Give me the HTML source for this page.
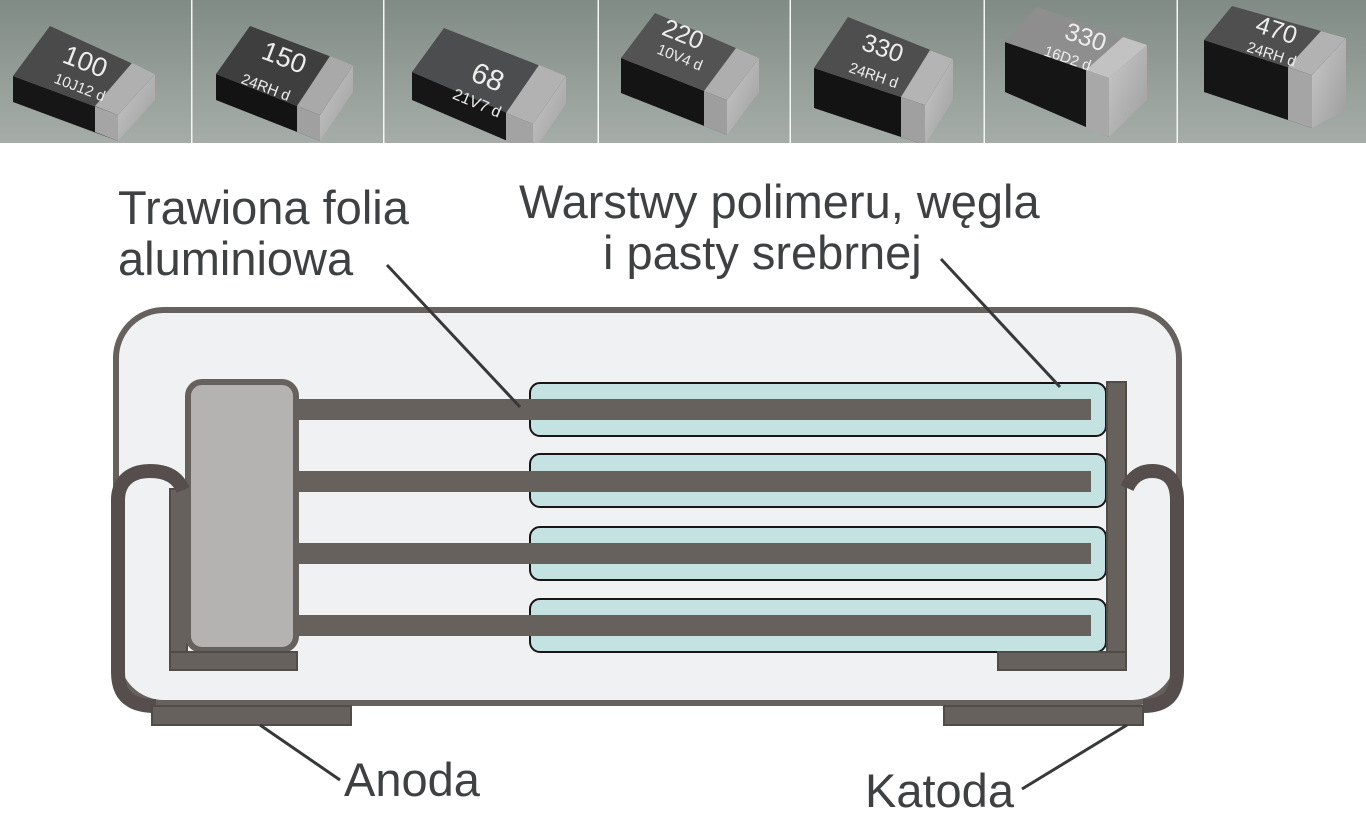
<!DOCTYPE html>
<html><head><meta charset="utf-8">
<style>
html,body{margin:0;padding:0;background:#fff;}
svg{display:block}
.lbl{font-family:"Liberation Sans",Arial,sans-serif;font-size:47px;fill:#3e4042;}
.ct{font-family:"Liberation Sans",Arial,sans-serif;fill:#eceeec;text-anchor:middle;}
</style></head><body>
<svg width="1366" height="826" viewBox="0 0 1366 826" xmlns="http://www.w3.org/2000/svg">
<defs>
<linearGradient id="bg" x1="0" y1="0" x2="0" y2="1">
 <stop offset="0" stop-color="#818b86"/>
 <stop offset="0.5" stop-color="#939c97"/>
 <stop offset="1" stop-color="#a6ada9"/>
</linearGradient>
<linearGradient id="side" x1="0" y1="0" x2="1" y2="1">
 <stop offset="0" stop-color="#c9c9c9"/>
 <stop offset="1" stop-color="#9c9c9c"/>
</linearGradient>
<clipPath id="strip"><rect x="0" y="0" width="1366" height="143"/></clipPath>
</defs>
<rect width="1366" height="826" fill="#fff"/>

<g clip-path="url(#strip)">
<rect x="0" y="0" width="1366" height="143" fill="url(#bg)"/>

<!-- Panel 1 -->
<polygon points="13,76 118,115 118,141 13,102" fill="#161616"/>
<polygon points="95,106 118,115 118,141 95,132" fill="#a5a5a5"/>
<polygon points="118,115 155,74 155,100 118,141" fill="url(#side)"/>
<polygon points="13,76 50,26 155,74 118,115" fill="#4a4a4a"/>
<polygon points="132,63 155,74 118,115 95,106" fill="#b0b0b0"/>
<text class="ct" font-size="27" transform="translate(82,70) rotate(21)">100</text>
<text class="ct" font-size="15" transform="translate(78,92) rotate(21)">10J12 d</text>

<!-- Panel 2 -->
<polygon points="216,74 320,115 320,141 216,100" fill="#131313"/>
<polygon points="297,106 320,115 320,141 297,132" fill="#a0a0a0"/>
<polygon points="320,115 353,65 353,92 320,141" fill="url(#side)"/>
<polygon points="216,74 250,26 353,65 320,115" fill="#3e3e3e"/>
<polygon points="330,56 353,65 320,115 297,106" fill="#a9a9a9"/>
<text class="ct" font-size="27" transform="translate(281,66) rotate(21)">150</text>
<text class="ct" font-size="15" transform="translate(264,92) rotate(21)">24RH d</text>

<!-- Panel 3 -->
<polygon points="412,72 533,124 533,152 412,100" fill="#161616"/>
<polygon points="506,113 533,124 533,152 506,141" fill="#a3a3a3"/>
<polygon points="533,124 566,76 566,104 533,152" fill="url(#side)"/>
<polygon points="412,72 444,28 566,76 533,124" fill="#4c4d4f"/>
<polygon points="539,65 566,76 533,124 506,113" fill="#b2b2b2"/>
<text class="ct" font-size="29" transform="translate(484,86) rotate(23)">68</text>
<text class="ct" font-size="16" transform="translate(475,108) rotate(23)">21V7 d</text>

<!-- Panel 4 -->
<polygon points="621,58 727,100 727,135 621,93" fill="#141414"/>
<polygon points="704,91 727,100 727,135 704,126" fill="#9e9e9e"/>
<polygon points="727,100 759,58 759,92 727,135" fill="url(#side)"/>
<polygon points="621,58 655,13 759,58 727,100" fill="#535353"/>
<polygon points="736,48 759,58 727,100 704,91" fill="#aeaeae"/>
<text class="ct" font-size="25" transform="translate(680,42) rotate(22)">220</text>
<text class="ct" font-size="15" transform="translate(678,62) rotate(22)">10V4 d</text>

<!-- Panel 5 -->
<polygon points="814,68 925,105 925,145 814,108" fill="#131313"/>
<polygon points="901,97 925,105 925,145 901,137" fill="#a0a0a0"/>
<polygon points="925,105 953,59 953,100 925,145" fill="url(#side)"/>
<polygon points="814,68 848,17 953,59 925,105" fill="#4e4e4e"/>
<polygon points="930,50 953,59 925,105 901,97" fill="#b4b4b4"/>
<text class="ct" font-size="25" transform="translate(880,56) rotate(19)">330</text>
<text class="ct" font-size="15" transform="translate(872,80) rotate(19)">24RH d</text>

<!-- Panel 6 -->
<polygon points="1005,42 1109,78 1109,137 1005,92" fill="#151515"/>
<polygon points="1086,70 1109,78 1109,137 1086,128" fill="#a8a8a8"/>
<polygon points="1109,78 1147,45 1147,100 1109,137" fill="url(#side)"/>
<polygon points="1005,42 1037,7 1147,45 1109,78" fill="#8e8e8e"/>
<polygon points="1123,37 1147,45 1109,78 1086,70" fill="#c2c2c2"/>
<text class="ct" font-size="25" transform="translate(1083,45) rotate(19)">330</text>
<text class="ct" font-size="15" transform="translate(1066,63) rotate(19)">16D2 d</text>

<!-- Panel 7 -->
<polygon points="1204,40 1312,75 1312,128 1204,92" fill="#151515"/>
<polygon points="1288,67 1312,75 1312,128 1288,120" fill="#a5a5a5"/>
<polygon points="1312,75 1346,38 1346,110 1312,128" fill="url(#side)"/>
<polygon points="1204,40 1232,6 1346,38 1312,75" fill="#4f4f4f"/>
<polygon points="1321,31 1346,38 1312,75 1288,67" fill="#b2b2b2"/>
<text class="ct" font-size="25" transform="translate(1274,38) rotate(18)">470</text>
<text class="ct" font-size="15" transform="translate(1270,59) rotate(18)">24RH d</text>

<!-- separators -->
<g fill="#f4f6f5">
<rect x="191" y="0" width="1.5" height="143"/>
<rect x="383" y="0" width="1.5" height="143"/>
<rect x="597.5" y="0" width="1.5" height="143"/>
<rect x="789.5" y="0" width="1.5" height="143"/>
<rect x="983.5" y="0" width="1.5" height="143"/>
<rect x="1176.5" y="0" width="1.5" height="143"/>
</g>
</g>

<!-- Body -->
<rect x="116" y="310" width="1063" height="393" rx="48" fill="#f0f1f3" stroke="#67615e" stroke-width="6"/>

<!-- Cyan layers -->
<g fill="#c4e2e2" stroke="#1a1414" stroke-width="2">
<rect x="530" y="383" width="576" height="53" rx="10"/>
<rect x="530" y="454" width="576" height="53" rx="10"/>
<rect x="530" y="527" width="576" height="53" rx="10"/>
<rect x="530" y="599" width="576" height="53" rx="10"/>
</g>

<!-- Foil bars -->
<g fill="#67615e">
<rect x="296" y="399" width="795" height="21"/>
<rect x="296" y="471" width="795" height="21"/>
<rect x="296" y="543" width="795" height="21"/>
<rect x="296" y="615" width="795" height="21"/>
</g>

<!-- Terminal inner bars -->
<g fill="#67615e" stroke="#524c49" stroke-width="2">
<rect x="170" y="489" width="17" height="163"/>
<rect x="1107" y="382" width="19" height="288"/>
</g>

<!-- Anode block -->
<rect x="188" y="382" width="108" height="268" rx="14" fill="#b4b3b1" stroke="#67615e" stroke-width="6"/>

<g fill="#67615e" stroke="#524c49" stroke-width="2">
<rect x="170" y="652" width="127" height="18"/>
<rect x="998" y="652" width="128" height="18"/>
</g>

<!-- J terminals -->
<g fill="none" stroke="#564e4c" stroke-width="14">
<path d="M 156 706 C 128 706 118 694 118 672 L 118 500 C 118 481 131 471 150 471 C 168 471 178 478 183 490"/>
<path d="M 1127 488 C 1132 477 1141 471 1152 471 C 1168 471 1177 481 1177 500 L 1177 672 C 1177 694 1167 706 1143 706"/>
</g>

<!-- Pads -->
<g fill="#67615e" stroke="#524c49" stroke-width="2">
<rect x="152" y="706" width="199" height="19"/>
<rect x="944" y="706" width="199" height="19"/>
</g>

<!-- Leader lines -->
<g stroke="#36383a" stroke-width="3" fill="none">
<line x1="387" y1="265" x2="520" y2="407"/>
<line x1="941" y1="259" x2="1060" y2="387"/>
<line x1="260" y1="725" x2="340" y2="780"/>
<line x1="1127" y1="725" x2="1022" y2="789"/>
</g>

<!-- Labels -->
<text class="lbl" x="118" y="224">Trawiona folia</text>
<text class="lbl" x="118" y="275">aluminiowa</text>
<text class="lbl" x="519" y="218">Warstwy polimeru, węgla</text>
<text class="lbl" x="603" y="269">i pasty srebrnej</text>
<text class="lbl" x="344" y="796">Anoda</text>
<text class="lbl" x="865" y="807">Katoda</text>
</svg>
</body></html>
